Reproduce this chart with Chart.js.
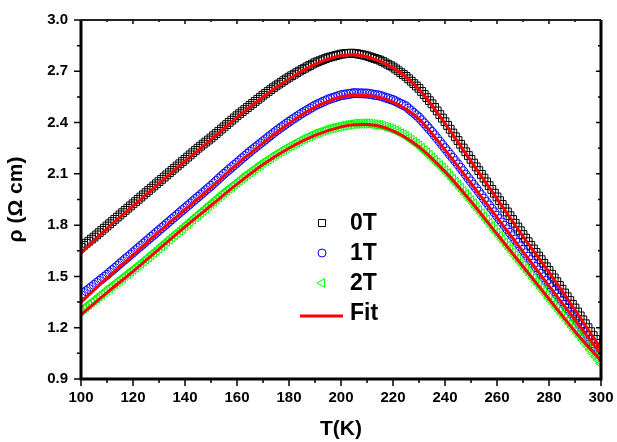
<!DOCTYPE html>
<html>
<head>
<meta charset="utf-8">
<script src="https://cdn.jsdelivr.net/npm/chart.js@4.4.1/dist/chart.umd.min.js"></script>
<style>
  html, body { margin: 0; padding: 0; background: #fff; }
</style>
</head>
<body>
<canvas id="rhoChart" width="617" height="442"></canvas>
<script>
// ---------------- Daten ----------------
const temperature = [
    100, 101, 102, 103, 104, 105, 106, 107, 108, 109,
    110, 111, 112, 113, 114, 115, 116, 117, 118, 119,
    120, 121, 122, 123, 124, 125, 126, 127, 128, 129,
    130, 131, 132, 133, 134, 135, 136, 137, 138, 139,
    140, 141, 142, 143, 144, 145, 146, 147, 148, 149,
    150, 151, 152, 153, 154, 155, 156, 157, 158, 159,
    160, 161, 162, 163, 164, 165, 166, 167, 168, 169,
    170, 171, 172, 173, 174, 175, 176, 177, 178, 179,
    180, 181, 182, 183, 184, 185, 186, 187, 188, 189,
    190, 191, 192, 193, 194, 195, 196, 197, 198, 199,
    200, 201, 202, 203, 204, 205, 206, 207, 208, 209,
    210, 211, 212, 213, 214, 215, 216, 217, 218, 219,
    220, 221, 222, 223, 224, 225, 226, 227, 228, 229,
    230, 231, 232, 233, 234, 235, 236, 237, 238, 239,
    240, 241, 242, 243, 244, 245, 246, 247, 248, 249,
    250, 251, 252, 253, 254, 255, 256, 257, 258, 259,
    260, 261, 262, 263, 264, 265, 266, 267, 268, 269,
    270, 271, 272, 273, 274, 275, 276, 277, 278, 279,
    280, 281, 282, 283, 284, 285, 286, 287, 288, 289,
    290, 291, 292, 293, 294, 295, 296, 297, 298, 299,
    300
];

const rho0T = [
    1.67, 1.682, 1.694, 1.706, 1.718, 1.73, 1.743, 1.756, 1.769, 1.782,
    1.795, 1.808, 1.821, 1.834, 1.847, 1.86, 1.873, 1.886, 1.899, 1.912,
    1.925, 1.938, 1.951, 1.964, 1.977, 1.99, 2.003, 2.016, 2.029, 2.042,
    2.055, 2.068, 2.081, 2.094, 2.107, 2.12, 2.133, 2.146, 2.159, 2.172,
    2.185, 2.198, 2.211, 2.224, 2.237, 2.25, 2.262, 2.274, 2.286, 2.298,
    2.31, 2.323, 2.336, 2.349, 2.362, 2.375, 2.388, 2.401, 2.414, 2.427,
    2.44, 2.452, 2.464, 2.476, 2.488, 2.50, 2.512, 2.524, 2.536, 2.548,
    2.56, 2.571, 2.582, 2.593, 2.604, 2.615, 2.625, 2.635, 2.645, 2.655,
    2.665, 2.674, 2.683, 2.692, 2.701, 2.71, 2.718, 2.726, 2.734, 2.742,
    2.75, 2.756, 2.762, 2.768, 2.774, 2.78, 2.784, 2.788, 2.792, 2.796,
    2.80, 2.802, 2.804, 2.805, 2.806, 2.805, 2.803, 2.80, 2.797, 2.794,
    2.79, 2.785, 2.78, 2.775, 2.77, 2.765, 2.757, 2.749, 2.741, 2.733,
    2.725, 2.714, 2.703, 2.692, 2.681, 2.67, 2.656, 2.642, 2.628, 2.614,
    2.60, 2.582, 2.564, 2.546, 2.528, 2.51, 2.489, 2.468, 2.447, 2.426,
    2.405, 2.383, 2.361, 2.339, 2.317, 2.295, 2.273, 2.251, 2.229, 2.207,
    2.185, 2.163, 2.141, 2.119, 2.097, 2.075, 2.053, 2.031, 2.009, 1.987,
    1.965, 1.943, 1.921, 1.899, 1.877, 1.855, 1.833, 1.811, 1.789, 1.767,
    1.745, 1.724, 1.703, 1.682, 1.661, 1.64, 1.619, 1.598, 1.577, 1.556,
    1.535, 1.513, 1.491, 1.469, 1.447, 1.425, 1.403, 1.381, 1.359, 1.337,
    1.315, 1.292, 1.269, 1.246, 1.223, 1.20, 1.177, 1.154, 1.131, 1.108,
    1.085
];

const rho1T = [
    1.39, 1.402, 1.414, 1.426, 1.438, 1.45, 1.462, 1.474, 1.486, 1.498,
    1.51, 1.523, 1.536, 1.549, 1.562, 1.575, 1.588, 1.601, 1.614, 1.627,
    1.64, 1.653, 1.666, 1.679, 1.692, 1.705, 1.718, 1.731, 1.744, 1.757,
    1.77, 1.783, 1.796, 1.809, 1.822, 1.835, 1.848, 1.861, 1.874, 1.887,
    1.90, 1.913, 1.926, 1.939, 1.952, 1.965, 1.978, 1.991, 2.004, 2.017,
    2.03, 2.044, 2.058, 2.072, 2.086, 2.10, 2.113, 2.126, 2.139, 2.152,
    2.165, 2.178, 2.191, 2.204, 2.217, 2.23, 2.242, 2.254, 2.266, 2.278,
    2.29, 2.302, 2.314, 2.326, 2.338, 2.35, 2.361, 2.372, 2.383, 2.394,
    2.405, 2.415, 2.425, 2.435, 2.445, 2.455, 2.464, 2.473, 2.482, 2.491,
    2.50, 2.507, 2.514, 2.521, 2.528, 2.535, 2.54, 2.545, 2.55, 2.555,
    2.56, 2.562, 2.565, 2.567, 2.57, 2.572, 2.572, 2.571, 2.571, 2.57,
    2.57, 2.567, 2.565, 2.562, 2.56, 2.557, 2.552, 2.547, 2.542, 2.537,
    2.532, 2.525, 2.517, 2.51, 2.502, 2.495, 2.482, 2.469, 2.456, 2.443,
    2.43, 2.413, 2.396, 2.379, 2.362, 2.345, 2.326, 2.307, 2.288, 2.269,
    2.25, 2.231, 2.212, 2.193, 2.174, 2.155, 2.135, 2.115, 2.095, 2.075,
    2.055, 2.035, 2.015, 1.995, 1.975, 1.955, 1.935, 1.915, 1.895, 1.875,
    1.855, 1.835, 1.815, 1.795, 1.775, 1.755, 1.735, 1.715, 1.695, 1.675,
    1.655, 1.635, 1.615, 1.595, 1.575, 1.555, 1.535, 1.515, 1.495, 1.475,
    1.455, 1.435, 1.415, 1.395, 1.375, 1.355, 1.335, 1.315, 1.295, 1.275,
    1.255, 1.234, 1.213, 1.192, 1.171, 1.15, 1.13, 1.11, 1.09, 1.07,
    1.05
];

const rho2T = [
    1.30, 1.312, 1.324, 1.336, 1.348, 1.36, 1.372, 1.384, 1.396, 1.408,
    1.42, 1.432, 1.444, 1.456, 1.468, 1.48, 1.492, 1.504, 1.516, 1.528,
    1.54, 1.552, 1.564, 1.576, 1.588, 1.60, 1.613, 1.626, 1.639, 1.652,
    1.665, 1.678, 1.691, 1.704, 1.717, 1.73, 1.743, 1.756, 1.769, 1.782,
    1.795, 1.808, 1.821, 1.834, 1.847, 1.86, 1.873, 1.886, 1.899, 1.912,
    1.925, 1.938, 1.951, 1.964, 1.977, 1.99, 2.002, 2.014, 2.026, 2.038,
    2.05, 2.062, 2.074, 2.086, 2.098, 2.11, 2.121, 2.132, 2.143, 2.154,
    2.165, 2.175, 2.185, 2.195, 2.205, 2.215, 2.224, 2.233, 2.242, 2.251,
    2.26, 2.268, 2.276, 2.284, 2.292, 2.30, 2.307, 2.314, 2.321, 2.328,
    2.335, 2.34, 2.346, 2.351, 2.357, 2.362, 2.366, 2.369, 2.373, 2.376,
    2.38, 2.383, 2.385, 2.388, 2.39, 2.393, 2.393, 2.394, 2.394, 2.395,
    2.395, 2.393, 2.391, 2.389, 2.387, 2.385, 2.38, 2.375, 2.37, 2.365,
    2.36, 2.352, 2.344, 2.336, 2.328, 2.32, 2.309, 2.298, 2.287, 2.276,
    2.265, 2.251, 2.237, 2.223, 2.209, 2.195, 2.18, 2.165, 2.15, 2.135,
    2.12, 2.103, 2.086, 2.069, 2.052, 2.035, 2.017, 1.999, 1.981, 1.963,
    1.945, 1.926, 1.907, 1.888, 1.869, 1.85, 1.831, 1.812, 1.793, 1.774,
    1.755, 1.736, 1.717, 1.698, 1.679, 1.66, 1.641, 1.622, 1.603, 1.584,
    1.565, 1.546, 1.527, 1.508, 1.489, 1.47, 1.451, 1.432, 1.413, 1.394,
    1.375, 1.356, 1.337, 1.318, 1.299, 1.28, 1.261, 1.242, 1.223, 1.204,
    1.185, 1.166, 1.147, 1.128, 1.109, 1.09, 1.07, 1.05, 1.03, 1.01,
    0.99
];

// Fit-Kurven
const fitT = [100, 110, 120, 130, 140, 150, 160, 170, 180, 190, 200, 205, 210, 220, 230, 240, 250, 260, 270, 280, 290, 300];
const fit0T = [1.635, 1.78, 1.912, 2.045, 2.175, 2.30, 2.43, 2.55, 2.655, 2.74, 2.792, 2.797, 2.785, 2.72, 2.595, 2.395, 2.175, 1.955, 1.735, 1.525, 1.305, 1.075];
const fit1T = [1.35, 1.49, 1.625, 1.76, 1.89, 2.02, 2.155, 2.28, 2.395, 2.49, 2.55, 2.56, 2.558, 2.52, 2.42, 2.24, 2.045, 1.845, 1.645, 1.445, 1.245, 1.045];
const fit2T = [1.275, 1.405, 1.53, 1.66, 1.79, 1.915, 2.04, 2.155, 2.25, 2.325, 2.375, 2.387, 2.388, 2.352, 2.258, 2.113, 1.938, 1.748, 1.558, 1.368, 1.178, 1.005];

const xTicks = [100, 120, 140, 160, 180, 200, 220, 240, 260, 280, 300];
const yTicks = [0.9, 1.2, 1.5, 1.8, 2.1, 2.4, 2.7, 3.0];
const legendLabels = ["0T", "1T", "2T", "Fit"];

[rho0T, rho1T, rho2T].forEach(a => {
    if (a.length !== temperature.length) throw new Error("length mismatch " + a.length);
});

const FONT = "'Liberation Sans', Arial, sans-serif";

function pairs(xs, ys) {
    return xs.map((x, i) => ({ x: x, y: ys[i] }));
}

function fitSet(ys) {
    return {
        type: "line",
        data: pairs(fitT, ys),
        borderColor: "#FF0000",
        borderWidth: 3,
        pointRadius: 0,
        fill: false,
        cubicInterpolationMode: "monotone"
    };
}

function markerSet(ys, color, style, radius, rotation) {
    return {
        type: "line",
        data: pairs(temperature, ys),
        showLine: false,
        borderColor: color,
        backgroundColor: "rgba(0,0,0,0)",
        pointStyle: style,
        pointRadius: radius,
        pointRotation: rotation,
        pointBorderWidth: 1,
        pointBorderColor: color,
        pointBackgroundColor: "rgba(0,0,0,0)"
    };
}

// ---------------- Rahmen + Ticks ----------------
const framePlugin = {
    id: "frame",
    afterDatasetsDraw(chart) {
        const { ctx, chartArea: a, scales: { x, y } } = chart;
        ctx.save();
        ctx.strokeStyle = "#000";
        ctx.lineWidth = 1.5;
        ctx.beginPath();
        for (let i = 0; i < xTicks.length; i++) {
            const px = x.getPixelForValue(xTicks[i]);
            ctx.moveTo(px, a.bottom); ctx.lineTo(px, a.bottom + 7);
            ctx.moveTo(px, a.top); ctx.lineTo(px, a.top + 4);
            if (i < xTicks.length - 1) {
                const pm = x.getPixelForValue((xTicks[i] + xTicks[i + 1]) / 2);
                ctx.moveTo(pm, a.bottom); ctx.lineTo(pm, a.bottom + 4);
                ctx.moveTo(pm, a.top); ctx.lineTo(pm, a.top + 2);
            }
        }
        for (let i = 0; i < yTicks.length; i++) {
            const py = y.getPixelForValue(yTicks[i]);
            ctx.moveTo(a.left, py); ctx.lineTo(a.left - 7, py);
            ctx.moveTo(a.right, py); ctx.lineTo(a.right - 5, py);
            if (i < yTicks.length - 1) {
                const pm = y.getPixelForValue((yTicks[i] + yTicks[i + 1]) / 2);
                ctx.moveTo(a.left, pm); ctx.lineTo(a.left - 4, pm);
                ctx.moveTo(a.right, pm); ctx.lineTo(a.right - 3, pm);
            }
        }
        ctx.stroke();

        ctx.lineWidth = 2;
        ctx.strokeStyle = "#222";
        ctx.beginPath();
        ctx.moveTo(a.left, a.top); ctx.lineTo(a.right, a.top);
        ctx.stroke();

        ctx.lineWidth = 3;
        ctx.strokeStyle = "#000";
        ctx.beginPath();
        ctx.moveTo(a.left, a.top); ctx.lineTo(a.left, a.bottom);
        ctx.lineTo(a.right, a.bottom); ctx.lineTo(a.right, a.top);
        ctx.stroke();
        ctx.restore();
    }
};

// ---------------- Legende ----------------
const legendPlugin = {
    id: "innerLegend",
    afterDraw(chart) {
        const ctx = chart.ctx;
        const markers = [
            { style: "rect", color: "#000000", radius: 5, rotation: 0 },
            { style: "circle", color: "#0000FF", radius: 4, rotation: 0 },
            { style: "triangle", color: "#00FF00", radius: 5, rotation: -90 },
            null
        ];
        const x0 = 322, xt = 350, y0 = 223, dy = 30;
        ctx.save();
        legendLabels.forEach((label, i) => {
            const cy = y0 + i * dy;
            const m = markers[i];
            if (m) {
                ctx.strokeStyle = m.color;
                ctx.fillStyle = "rgba(0,0,0,0)";
                ctx.lineWidth = 1;
                Chart.helpers.drawPoint(ctx, { pointStyle: m.style, radius: m.radius, rotation: m.rotation, borderWidth: 1 }, x0, cy);
            } else {
                ctx.strokeStyle = "#FF0000";
                ctx.lineWidth = 3;
                ctx.beginPath();
                ctx.moveTo(300, cy + 3); ctx.lineTo(343, cy + 3);
                ctx.stroke();
            }
            ctx.fillStyle = "#000";
            ctx.font = "bold 23px " + FONT;
            ctx.textBaseline = "middle";
            ctx.textAlign = "left";
            ctx.fillText(label, xt, cy + 1);
        });
        ctx.restore();
    }
};

// ---------------- Diagramm ----------------
new Chart(document.getElementById("rhoChart").getContext("2d"), {
    type: "line",
    data: {
        datasets: [
            fitSet(fit0T),
            fitSet(fit1T),
            fitSet(fit2T),
            markerSet(rho2T, "#00FF00", "triangle", 5.5, -90),
            markerSet(rho1T, "#0000FF", "circle", 4.5, 0),
            markerSet(rho0T, "#000000", "rect", 5.5, 0)
        ]
    },
    options: {
        responsive: false,
        animation: false,
        layout: { padding: { left: 0, right: 16, top: 20, bottom: 0 } },
        plugins: { legend: { display: false }, tooltip: { enabled: false } },
        scales: {
            x: {
                type: "linear",
                min: 100,
                max: 300,
                afterBuildTicks: s => { s.ticks = xTicks.map(v => ({ value: v })); },
                afterFit: s => { s.height = 63; },
                grid: { display: true, drawOnChartArea: false, color: "rgba(0,0,0,0)", tickLength: 7 },
                border: { display: false },
                ticks: {
                    color: "#000",
                    padding: 3,
                    maxRotation: 0,
                    autoSkip: false,
                    font: { family: FONT, size: 15, weight: "bold" }
                },
                title: {
                    display: true,
                    text: "T(K)",
                    color: "#000",
                    padding: { top: 0, bottom: 0 },
                    font: { family: FONT, size: 21, weight: "bold" }
                }
            },
            y: {
                type: "linear",
                min: 0.9,
                max: 3.0,
                afterBuildTicks: s => { s.ticks = yTicks.map(v => ({ value: v })); },
                afterFit: s => { s.width = 81; },
                grid: { display: true, drawOnChartArea: false, color: "rgba(0,0,0,0)", tickLength: 7 },
                border: { display: false },
                ticks: {
                    color: "#000",
                    padding: 6,
                    autoSkip: false,
                    callback: v => v.toFixed(1),
                    font: { family: FONT, size: 15, weight: "bold" }
                },
                title: {
                    display: true,
                    text: "ρ (Ω cm)",
                    color: "#000",
                    padding: { top: 4, bottom: 0 },
                    font: { family: FONT, size: 21, weight: "bold" }
                }
            }
        }
    },
    plugins: [framePlugin, legendPlugin]
});
</script>
</body>
</html>
